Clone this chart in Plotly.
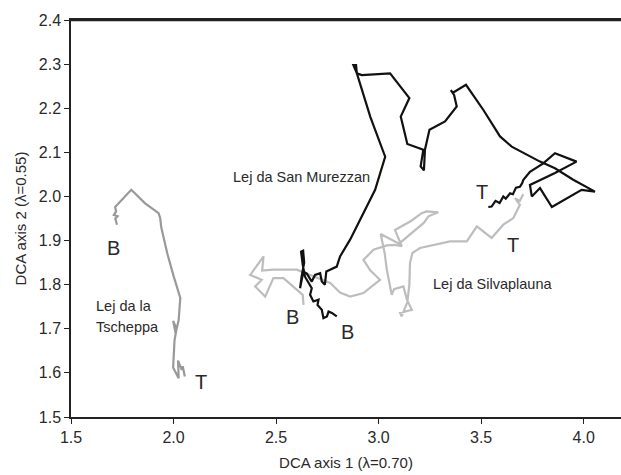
import plotly.graph_objects as go

# Lej da la Tscheppa (B -> T)
tsch_x = [1.724, 1.716, 1.727, 1.709, 1.720, 1.715, 1.794, 1.860, 1.927, 1.935, 1.940, 1.970, 2.000, 2.033,
          2.025, 2.010, 1.998, 2.015, 2.005, 2.000, 1.998, 2.025, 2.022, 2.040, 2.045, 2.055]
tsch_y = [1.936, 1.950, 1.955, 1.958, 1.966, 1.976, 2.015, 1.985, 1.962, 1.951, 1.930, 1.870, 1.820, 1.770,
          1.720, 1.690, 1.718, 1.700, 1.675, 1.640, 1.612, 1.588, 1.628, 1.607, 1.615, 1.592]

# Lej da San Murezzan (B -> T)
murz_x = [2.796, 2.772, 2.756, 2.748, 2.731, 2.723, 2.702, 2.707, 2.682, 2.666, 2.674, 2.641, 2.630, 2.622,
          2.632, 2.637, 2.625, 2.617, 2.633, 2.650, 2.674, 2.690, 2.715, 2.723, 2.738, 2.745, 2.796, 2.812,
          2.861, 2.934, 2.983, 3.032, 2.960, 2.894, 2.877, 2.890, 2.894, 2.918, 3.056, 3.150, 3.108, 3.140,
          3.218, 3.205, 3.221, 3.226, 3.248, 3.324, 3.381, 3.368, 3.352, 3.362, 3.426, 3.479, 3.511, 3.592,
          3.649, 3.787, 3.860, 3.949, 4.015, 4.055, 3.990, 3.845, 3.787, 3.747, 3.738, 3.860, 3.965, 3.860,
          3.803, 3.738, 3.706, 3.700, 3.689, 3.670, 3.655, 3.641, 3.620, 3.608, 3.590, 3.570, 3.551, 3.535]
murz_y = [1.728, 1.736, 1.739, 1.728, 1.724, 1.743, 1.754, 1.766, 1.762, 1.777, 1.792, 1.818, 1.845, 1.875,
          1.877, 1.850, 1.820, 1.792, 1.830, 1.825, 1.807, 1.822, 1.826, 1.807, 1.800, 1.830, 1.841, 1.864,
          1.902, 1.970, 2.015, 2.090, 2.180, 2.279, 2.298, 2.298, 2.279, 2.275, 2.279, 2.223, 2.181, 2.119,
          2.106, 2.068, 2.059, 2.106, 2.151, 2.170, 2.204, 2.230, 2.241, 2.235, 2.253, 2.219, 2.196, 2.136,
          2.113, 2.079, 2.064, 2.038, 2.022, 2.011, 2.015, 1.976, 2.019, 2.000, 2.026, 2.053, 2.079, 2.098,
          2.075, 2.056, 2.038, 2.030, 2.022, 2.020, 2.005, 2.007, 1.995, 2.000, 1.985, 1.990, 1.977, 1.976]

# Lej da Silvaplauna (B -> T)
silv_x = [2.634, 2.630, 2.536, 2.487, 2.447, 2.398, 2.430, 2.374, 2.439, 2.432, 2.487, 2.601, 2.666, 2.764,
          2.812, 2.861, 2.926, 3.007, 2.960, 2.926, 2.975, 3.040, 3.080, 3.113, 3.080, 3.160, 3.210, 3.234,
          3.291, 3.243, 3.220, 3.162, 3.100, 3.010, 3.030, 3.040, 3.056, 3.064, 3.075, 3.121, 3.138, 3.162,
          3.105, 3.112, 3.140, 3.150, 3.153, 3.165, 3.202, 3.348, 3.430, 3.479, 3.551, 3.608, 3.657, 3.689,
          3.665, 3.689, 3.705]
silv_y = [1.754, 1.777, 1.815, 1.815, 1.773, 1.796, 1.811, 1.822, 1.864, 1.832, 1.834, 1.834, 1.822, 1.804,
          1.782, 1.773, 1.781, 1.811, 1.832, 1.856, 1.879, 1.889, 1.890, 1.887, 1.924, 1.945, 1.962, 1.966,
          1.964, 1.955, 1.940, 1.917, 1.893, 1.915, 1.870, 1.834, 1.796, 1.777, 1.790, 1.796, 1.766, 1.743,
          1.736, 1.728, 1.760, 1.800, 1.849, 1.872, 1.883, 1.898, 1.898, 1.932, 1.906, 1.936, 1.951, 1.981,
          1.996, 1.990, 2.005]

x_ticks = [1.5, 2.0, 2.5, 3.0, 3.5, 4.0]
y_ticks = [1.5, 1.6, 1.7, 1.8, 1.9, 2.0, 2.1, 2.2, 2.3, 2.4]

lake_labels = [
    ("Lej da San Murezzan", 2.622, 2.044, "center"),
    ("Lej da Silvaplauna", 3.553, 1.802, "center"),
    ("Lej da la", 1.611, 1.752, "left"),
    ("Tscheppa", 1.611, 1.705, "left"),
]
end_labels = [
    ("B", 1.708, 1.883), ("T", 2.135, 1.580),
    ("B", 2.578, 1.727), ("B", 2.847, 1.693),
    ("T", 3.506, 2.009), ("T", 3.654, 1.890),
]

FONT = "Liberation Sans, Arial"
TXT = "#2a2a2a"

fig = go.Figure()
fig.add_trace(go.Scatter(x=silv_x, y=silv_y, mode="lines", line=dict(color="#bdbdbd", width=2.2), name="Silvaplauna"))
fig.add_trace(go.Scatter(x=tsch_x, y=tsch_y, mode="lines", line=dict(color="#999999", width=2.2), name="Tscheppa"))
fig.add_trace(go.Scatter(x=murz_x, y=murz_y, mode="lines", line=dict(color="#111111", width=2.2), name="San Murezzan"))

for txt, x, y, anc in lake_labels:
    fig.add_annotation(x=x, y=y, text=txt, showarrow=False, xanchor=anc, yanchor="middle",
                       font=dict(family=FONT, size=14.5, color=TXT))
for txt, x, y in end_labels:
    fig.add_annotation(x=x, y=y, text=txt, showarrow=False, xanchor="center", yanchor="middle",
                       font=dict(family=FONT, size=20, color=TXT))

# top frame line
fig.add_shape(type="line", xref="paper", yref="paper", x0=0, x1=1, y0=0.999, y1=0.999,
              line=dict(color="#222222", width=1.5), layer="above")

fig.update_layout(
    width=621, height=475,
    margin=dict(l=71, r=0, t=20, b=58),
    paper_bgcolor="white", plot_bgcolor="white",
    showlegend=False,
    font=dict(family=FONT, size=16, color=TXT),
)
fig.update_xaxes(range=[1.5, 4.182], tickvals=x_ticks, ticktext=[f"{v:.1f}" for v in x_ticks],
                 showgrid=False, zeroline=False, showline=True, linecolor="#222222", linewidth=1.5,
                 mirror=True,
                 ticks="outside", ticklen=5, tickcolor="#222222", tickfont=dict(size=16),
                 title=dict(text="DCA axis 1 (λ=0.70)", font=dict(size=15), standoff=13))
fig.update_yaxes(range=[1.5, 2.4], tickvals=y_ticks, ticktext=[f"{v:.1f}" for v in y_ticks],
                 showgrid=False, zeroline=False, showline=True, linecolor="#222222", linewidth=1.5,
                 ticks="outside", ticklen=5, tickcolor="#222222", tickfont=dict(size=16),
                 title=dict(text="DCA axis 2 (λ=0.55)", font=dict(size=15), standoff=9))

fig.write_html("out.html")
